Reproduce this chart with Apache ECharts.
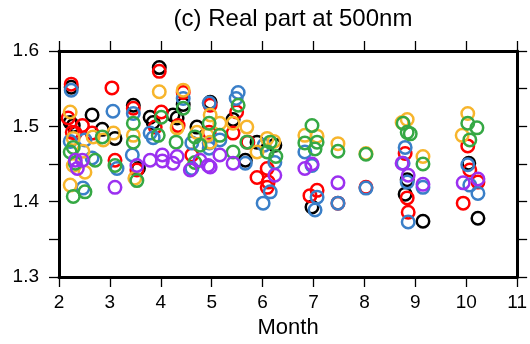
<!DOCTYPE html>
<html>
<head>
<meta charset="utf-8">
<script src="https://cdn.jsdelivr.net/npm/echarts@6/dist/echarts.min.js"></script>
<style>
  html, body { margin: 0; padding: 0; background: #fff; }
  #chart { width: 530px; height: 344px; }
</style>
</head>
<body>
<div id="chart"></div>
<script>
// points are [month, real part]
const blackPts = [
  [2.24,1.552],[2.65,1.515],[2.22,1.505],[2.28,1.501],[2.85,1.496],[3.10,1.484],[3.46,1.528],
  [3.97,1.578],[4.44,1.529],[3.79,1.512],[3.85,1.505],[4.24,1.515],[4.32,1.511],[4.71,1.499],
  [4.97,1.532],[3.56,1.444],[5.42,1.509],[5.66,1.455],[5.89,1.479],[6.24,1.475],[6.97,1.393],
  [8.84,1.429],[8.80,1.410],[9.15,1.374],[10.05,1.451],[10.23,1.378]
]
const redPts = [
  [2.24,1.556],[3.04,1.551],[2.18,1.511],[2.46,1.501],[2.26,1.492],[2.32,1.491],[2.65,1.491],
  [3.10,1.455],[3.46,1.524],[3.53,1.442],[3.97,1.573],[4.44,1.545],[4.01,1.519],[3.89,1.499],
  [4.34,1.501],[4.97,1.528],[4.95,1.492],[5.49,1.519],[5.42,1.491],[5.71,1.479],[4.61,1.462],
  [6.09,1.444],[5.89,1.432],[6.11,1.426],[6.09,1.419],[7.07,1.415],[6.93,1.408],[7.48,1.398],
  [8.03,1.419],[8.80,1.464],[8.84,1.405],[8.86,1.386],[10.03,1.474],[10.07,1.442],[10.23,1.426],
  [9.94,1.398]
]
const bluePts = [
  [2.24,1.548],[3.06,1.520],[2.22,1.480],[2.51,1.482],[2.65,1.458],[3.14,1.444],[2.47,1.418],
  [3.46,1.517],[3.44,1.462],[3.79,1.491],[3.85,1.485],[4.44,1.537],[4.61,1.478],[4.61,1.444],
  [4.95,1.478],[5.52,1.545],[5.48,1.537],[4.95,1.531],[5.16,1.482],[4.95,1.471],[5.66,1.451],
  [6.24,1.452],[6.03,1.475],[6.15,1.413],[6.01,1.398],[6.83,1.466],[6.97,1.448],[7.07,1.406],
  [7.03,1.389],[7.48,1.398],[8.03,1.418],[8.80,1.472],[8.76,1.451],[8.84,1.426],[8.86,1.373],
  [9.15,1.419],[10.03,1.449],[10.07,1.422],[10.23,1.411]
]
const orangePts = [
  [2.22,1.519],[2.67,1.486],[3.07,1.491],[2.28,1.484],[2.87,1.482],[2.47,1.467],[2.28,1.448],
  [2.51,1.439],[2.22,1.422],[3.97,1.546],[4.44,1.548],[3.46,1.488],[3.49,1.431],[4.32,1.498],
  [4.71,1.492],[4.91,1.488],[4.97,1.515],[5.16,1.504],[4.97,1.479],[5.42,1.504],[5.69,1.499],
  [5.89,1.466],[6.09,1.484],[6.22,1.480],[6.83,1.488],[7.07,1.487],[7.48,1.477],[8.03,1.464],
  [8.84,1.509],[8.74,1.505],[9.15,1.460],[10.03,1.517],[9.92,1.488]
]
const greenPts = [
  [2.28,1.472],[2.85,1.486],[2.22,1.466],[2.71,1.455],[2.32,1.451],[3.10,1.448],[2.28,1.407],
  [2.51,1.413],[4.44,1.524],[3.46,1.504],[3.46,1.479],[3.53,1.428],[4.01,1.512],[3.95,1.488],
  [4.30,1.479],[4.67,1.486],[4.77,1.475],[4.67,1.452],[4.95,1.504],[5.52,1.528],[5.16,1.488],
  [5.42,1.466],[5.69,1.479],[6.15,1.479],[6.09,1.466],[6.26,1.460],[6.97,1.501],[6.83,1.478],
  [7.07,1.479],[7.03,1.470],[7.48,1.467],[8.03,1.463],[8.76,1.504],[8.84,1.492],[8.90,1.490],
  [9.15,1.450],[10.03,1.504],[10.21,1.498],[10.07,1.482]
]
const purplePts = [
  [2.32,1.455],[2.46,1.455],[2.36,1.444],[3.10,1.419],[3.53,1.448],[3.79,1.455],[4.03,1.462],
  [4.03,1.454],[4.24,1.451],[4.32,1.460],[4.58,1.442],[4.93,1.448],[5.16,1.462],[4.77,1.455],
  [4.97,1.446],[5.42,1.451],[6.24,1.435],[6.83,1.444],[6.97,1.450],[7.48,1.425],[8.74,1.451],
  [8.86,1.435],[9.15,1.423],[9.94,1.425],[10.23,1.430]
]

const groups = [
  { pts: blackPts, color: '#000000' },
  { pts: redPts, color: '#ff0000' },
  { pts: bluePts, color: '#3a7fc8' },
  { pts: orangePts, color: '#f7b52c' },
  { pts: greenPts, color: '#35a844' },
  { pts: purplePts, color: '#9b30f0' },
]

const font = 'Liberation Sans, Arial, sans-serif'
const frame = { lineStyle: { color: '#000', width: 3 } }
const tick = { show: true, inside: false, length: 10, lineStyle: { color: '#000', width: 1.3 } }

const chart = echarts.init(document.getElementById('chart'), null, { renderer: 'canvas' })

chart.setOption({
  animation: false,
  title: {
    text: '(c) Real part at 500nm',
    left: 288, top: 2, textAlign: 'center',
    textStyle: { fontFamily: font, fontSize: 24, fontWeight: 'normal', color: '#000' },
  },
  grid: { left: 59, right: 12, top: 51, bottom: 67 },
  xAxis: [
    {
      type: 'value', min: 2, max: 11, interval: 1, position: 'bottom',
      name: 'Month', nameLocation: 'middle', nameGap: 34,
      nameTextStyle: { fontFamily: font, fontSize: 22, color: '#000' },
      axisLine: frame, axisTick: tick,
      axisLabel: { fontFamily: font, fontSize: 19, color: '#000', margin: 16 },
      splitLine: { show: false },
    },
    {
      type: 'value', min: 2, max: 11, interval: 1, position: 'top',
      axisLine: frame, axisTick: tick, axisLabel: { show: false }, splitLine: { show: false },
    },
  ],
  yAxis: [
    {
      type: 'value', min: 1.3, max: 1.6, interval: 0.05, position: 'left',
      axisLine: frame, axisTick: tick,
      axisLabel: {
        fontFamily: font, fontSize: 19, color: '#000', margin: 20,
        formatter: v => (Math.round(v * 100) % 10 === 0 ? v.toFixed(1) : ''),
      },
      splitLine: { show: false },
    },
    {
      type: 'value', min: 1.3, max: 1.6, interval: 0.05, position: 'right',
      axisLine: frame, axisTick: tick, axisLabel: { show: false }, splitLine: { show: false },
    },
  ],
  series: groups.map(g => ({
    type: 'scatter',
    data: g.pts,
    symbol: 'circle',
    symbolSize: 12.5,
    itemStyle: { color: 'rgba(0,0,0,0)', borderColor: g.color, borderWidth: 2.5, opacity: 1 },
    emphasis: { disabled: true },
  })),
})
</script>
</body>
</html>
